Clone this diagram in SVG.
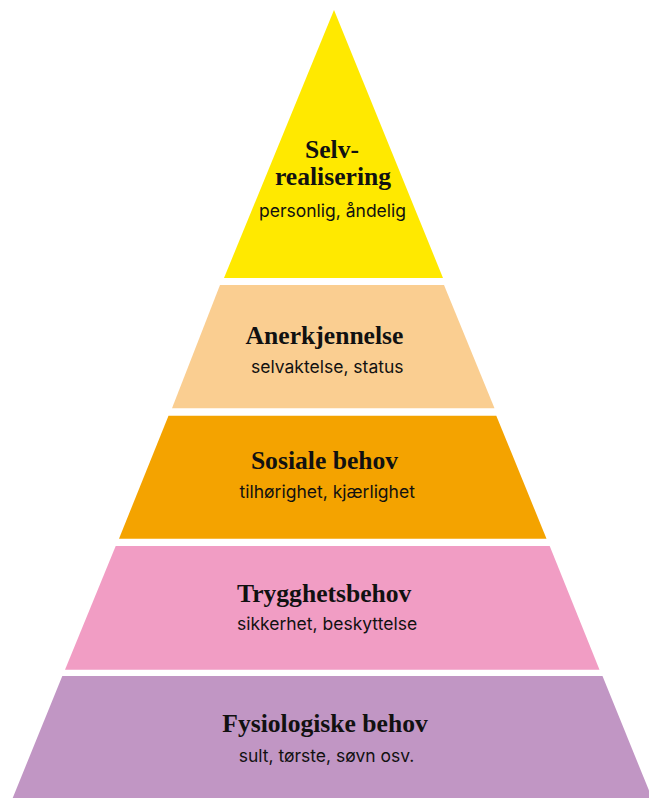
<svg xmlns="http://www.w3.org/2000/svg" width="649" height="798" viewBox="0 0 649 798">
<style>
.t{font-family:"Liberation Serif","Times New Roman",serif;font-weight:bold;font-size:25.6px;fill:#111;text-anchor:middle}
.s{font-family:Inter,"Noto Sans",sans-serif;font-size:17.5px;fill:#111;text-anchor:middle}
</style>
<rect width="649" height="798" fill="#fff"/>
<g id="selvrealisering">
<polygon points="334,10 443,278 224,278" fill="#FFE900"/>
<text class="t" x="332" y="158">Selv-</text>
<text class="t" x="333" y="185">realisering</text>
<text class="s" x="332.5" y="217">personlig, åndelig</text>
</g>
<g id="anerkjennelse">
<polygon points="220,285 444,285 494.5,408.3 172,408.3" fill="#FACE91"/>
<text class="t" x="324.5" y="344">Anerkjennelse</text>
<text class="s" x="327.3" y="373">selvaktelse, status</text>
</g>
<g id="sosiale">
<polygon points="168.5,415.7 496.3,415.7 546.5,538.7 119,538.7" fill="#F4A300"/>
<text class="t" x="324.5" y="469">Sosiale behov</text>
<text class="s" x="327.2" y="498">tilhørighet, kjærlighet</text>
</g>
<g id="trygghet">
<polygon points="115.7,546 549.7,546 599.5,669.7 65,669.7" fill="#F19DC4"/>
<text class="t" x="324.2" y="601.7">Trygghetsbehov</text>
<text class="s" x="327" y="630">sikkerhet, beskyttelse</text>
</g>
<g id="fysiologiske">
<polygon points="62.3,676 602.5,676 652,798 12.7,798" fill="#C196C4"/>
<text class="t" x="325" y="731.7">Fysiologiske behov</text>
<text class="s" x="326.5" y="762">sult, tørste, søvn osv.</text>
</g>
<g id="connectors"/>
</svg>
